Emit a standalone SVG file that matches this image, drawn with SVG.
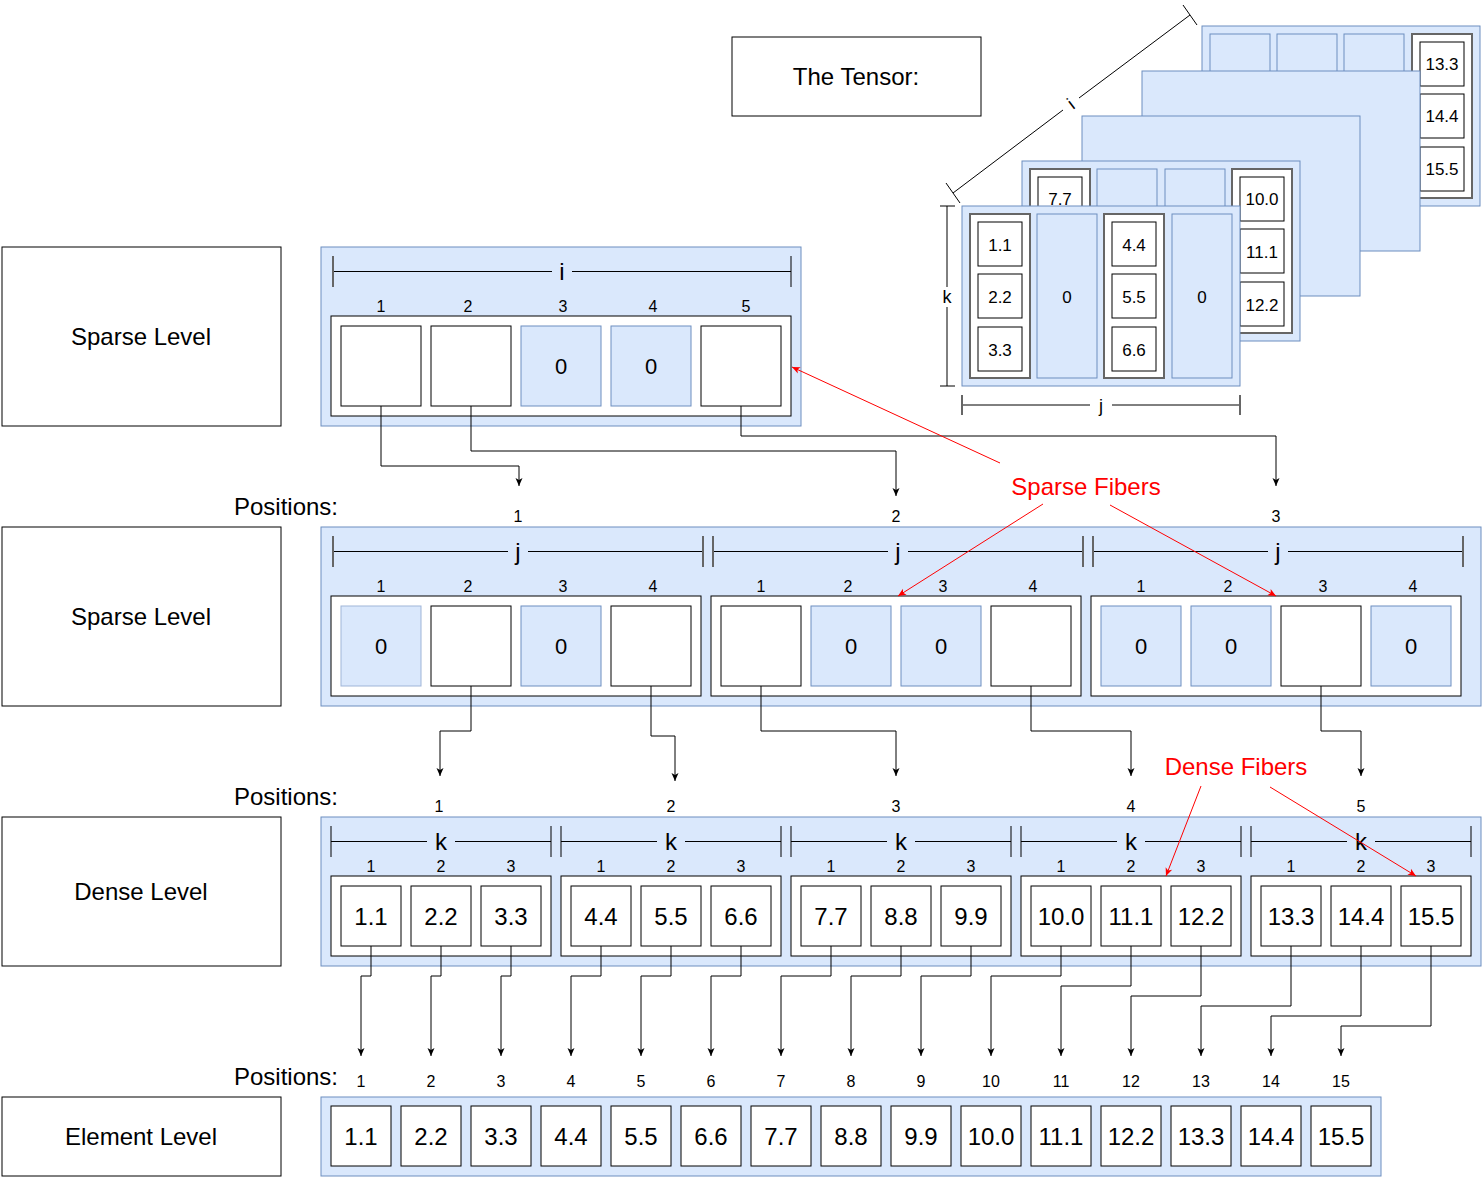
<svg xmlns="http://www.w3.org/2000/svg" width="1484" height="1180" viewBox="0 0 1484 1180">
<style>
text{font-family:"Liberation Sans",Arial,sans-serif;fill:#000;text-anchor:middle;dominant-baseline:central}
.lbl{font-size:24px}
.idx{font-size:16px}
.val{font-size:24px}
.zero{font-size:22px}
.rl{font-size:24px}
.ts{font-size:18px}
.tv{font-size:17px}
.box{fill:#fff;stroke:#000;stroke-width:1}
.blue{fill:#dae8fc;stroke:#6c8ebf;stroke-width:1}
.gray{fill:#fff;stroke:#666;stroke-width:2}
.rul{stroke:#000;stroke-width:1;fill:none}
.tk{stroke:#666;stroke-width:2;fill:none}
.tkb{stroke:#000;stroke-width:1;fill:none}
.con{stroke:#000;stroke-width:1;fill:none;marker-end:url(#ah)}
.red{stroke:#ff0000;stroke-width:1;fill:none;marker-end:url(#rh)}
.redt{fill:#ff0000;font-size:24px}
</style>
<defs>
<marker id="ah" markerWidth="10" markerHeight="10" refX="9" refY="5" orient="auto" markerUnits="userSpaceOnUse"><path d="M1,1.5 L9,5 L1,8.5 L3,5 Z" fill="#000"/></marker>
<marker id="rh" markerWidth="10" markerHeight="10" refX="9" refY="5" orient="auto" markerUnits="userSpaceOnUse"><path d="M1,1.5 L9,5 L1,8.5 L3,5 Z" fill="#ff0000"/></marker>
</defs>
<rect width="1484" height="1180" fill="#fff"/>

<!-- Left labels -->
<g id="label-sparse1"><rect class="box" x="2" y="247" width="279" height="179"/><text class="lbl" x="141" y="336">Sparse Level</text></g>
<g id="label-sparse2"><rect class="box" x="2" y="527" width="279" height="179"/><text class="lbl" x="141" y="616">Sparse Level</text></g>
<g id="label-dense"><rect class="box" x="2" y="817" width="279" height="149"/><text class="lbl" x="141" y="891">Dense Level</text></g>
<g id="label-element"><rect class="box" x="2" y="1097" width="279" height="79"/><text class="lbl" x="141" y="1136">Element Level</text></g>
<g id="label-tensor"><rect class="box" x="732" y="37" width="249" height="79"/><text class="lbl" x="856" y="76">The Tensor:</text></g>

<g id="positions-labels">
<text class="lbl" x="338" y="506" style="text-anchor:end">Positions:</text>
<text class="lbl" x="338" y="796" style="text-anchor:end">Positions:</text>
<text class="lbl" x="338" y="1076" style="text-anchor:end">Positions:</text>
</g>

<!-- Tensor -->
<g id="tensor">
<g id="slab5">
<rect class="blue" x="1202" y="26" width="278" height="180"/>
<rect class="blue" x="1210" y="34" width="60" height="164"/>
<rect class="blue" x="1277" y="34" width="60" height="164"/>
<rect class="blue" x="1344" y="34" width="60" height="164"/>
<rect class="gray" x="1412" y="34" width="60" height="164"/>
<rect class="box" x="1420" y="42" width="44" height="44"/><text class="tv" x="1442" y="64">13.3</text>
<rect class="box" x="1420" y="94" width="44" height="44"/><text class="tv" x="1442" y="116">14.4</text>
<rect class="box" x="1420" y="147" width="44" height="44"/><text class="tv" x="1442" y="169">15.5</text>
</g>
<g id="slab4"><rect class="blue" x="1142" y="71" width="278" height="180"/></g>
<g id="slab3"><rect class="blue" x="1082" y="116" width="278" height="180"/></g>
<g id="slab2">
<rect class="blue" x="1022" y="161" width="278" height="180"/>
<rect class="gray" x="1030" y="169" width="60" height="164"/>
<rect class="box" x="1038" y="177" width="44" height="44"/><text class="tv" x="1060" y="199">7.7</text>
<rect class="blue" x="1097" y="169" width="60" height="164"/>
<rect class="blue" x="1165" y="169" width="60" height="164"/>
<rect class="gray" x="1232" y="169" width="60" height="164"/>
<rect class="box" x="1240" y="177" width="44" height="44"/><text class="tv" x="1262" y="199">10.0</text>
<rect class="box" x="1240" y="229" width="44" height="44"/><text class="tv" x="1262" y="252">11.1</text>
<rect class="box" x="1240" y="282" width="44" height="44"/><text class="tv" x="1262" y="305">12.2</text>
</g>
<g id="slab1">
<rect class="blue" x="962" y="206" width="278" height="180"/>
<rect class="gray" x="970" y="214" width="60" height="164"/>
<rect class="box" x="978" y="222" width="44" height="44"/><text class="tv" x="1000" y="245">1.1</text>
<rect class="box" x="978" y="274" width="44" height="44"/><text class="tv" x="1000" y="297">2.2</text>
<rect class="box" x="978" y="327" width="44" height="44"/><text class="tv" x="1000" y="350">3.3</text>
<rect class="blue" x="1037" y="214" width="60" height="164"/><text class="tv" x="1067" y="297">0</text>
<rect class="gray" x="1104" y="214" width="60" height="164"/>
<rect class="box" x="1112" y="222" width="44" height="44"/><text class="tv" x="1134" y="245">4.4</text>
<rect class="box" x="1112" y="274" width="44" height="44"/><text class="tv" x="1134" y="297">5.5</text>
<rect class="box" x="1112" y="327" width="44" height="44"/><text class="tv" x="1134" y="350">6.6</text>
<rect class="blue" x="1172" y="214" width="60" height="164"/><text class="tv" x="1202" y="297">0</text>
</g>
<g id="tensor-k-ruler">
<path class="rul" d="M947,206 V287 M947,307 V386"/>
<path class="tkb" d="M940,206 H955 M940,386 H955"/>
<text class="ts" x="947" y="297">k</text>
</g>
<g id="tensor-j-ruler">
<path class="rul" d="M962,405 H1090 M1112,405 H1240"/>
<path class="tk" d="M962,395 V415 M1240,395 V415"/>
<text class="ts" x="1101" y="406">j</text>
</g>
<g id="tensor-i-ruler">
<path class="rul" d="M953,193 L1063,110 M1079,98 L1190,15"/>
<path class="tkb" d="M946,183 L960,203 M1183,5 L1197,25"/>
<text class="ts" x="1071" y="104" transform="rotate(-37 1071 104)">i</text>
</g>
</g>

<!-- Row 1: sparse level i -->
<g id="row1">
<rect class="blue" x="321" y="247" width="480" height="179"/>
<path class="rul" d="M333,271.5 H552 M572,271.5 H791"/>
<path class="tk" d="M333,256 V287"/>
<path class="tkb" d="M791,256 V287"/>
<text class="rl" x="562" y="271">i</text>
<text class="idx" x="381" y="306">1</text>
<text class="idx" x="468" y="306">2</text>
<text class="idx" x="563" y="306">3</text>
<text class="idx" x="653" y="306">4</text>
<text class="idx" x="746" y="306">5</text>
<rect class="box" x="331" y="316" width="460" height="100"/>
<rect class="box" x="341" y="326" width="80" height="80"/>
<rect class="box" x="431" y="326" width="80" height="80"/>
<rect class="blue" x="521" y="326" width="80" height="80"/><text class="zero" x="561" y="366">0</text>
<rect class="blue" x="611" y="326" width="80" height="80"/><text class="zero" x="651" y="366">0</text>
<rect class="box" x="701" y="326" width="80" height="80"/>
</g>

<!-- Row 2: sparse level j -->
<g id="row2">
<rect class="blue" x="321" y="527" width="1160" height="179"/>
<path class="rul" d="M333,551.5 H508 M528,551.5 H703 M713,551.5 H888 M908,551.5 H1083 M1093,551.5 H1268 M1288,551.5 H1463"/>
<path class="tk" d="M333,536 V567 M703,536 V567 M713,536 V567 M1083,536 V567 M1093,536 V567 M1463,536 V567"/>
<text class="rl" x="518" y="551">j</text>
<text class="rl" x="898" y="551">j</text>
<text class="rl" x="1278" y="551">j</text>
<text class="idx" x="381" y="586">1</text><text class="idx" x="468" y="586">2</text><text class="idx" x="563" y="586">3</text><text class="idx" x="653" y="586">4</text>
<text class="idx" x="761" y="586">1</text><text class="idx" x="848" y="586">2</text><text class="idx" x="943" y="586">3</text><text class="idx" x="1033" y="586">4</text>
<text class="idx" x="1141" y="586">1</text><text class="idx" x="1228" y="586">2</text><text class="idx" x="1323" y="586">3</text><text class="idx" x="1413" y="586">4</text>
<rect class="box" x="331" y="596" width="370" height="100"/>
<rect class="box" x="711" y="596" width="370" height="100"/>
<rect class="box" x="1091" y="596" width="370" height="100"/>
<rect class="blue" x="341" y="606" width="80" height="80" style="stroke:#9fb5d8"/><text class="zero" x="381" y="646">0</text>
<rect class="box" x="431" y="606" width="80" height="80"/>
<rect class="blue" x="521" y="606" width="80" height="80"/><text class="zero" x="561" y="646">0</text>
<rect class="box" x="611" y="606" width="80" height="80"/>
<rect class="box" x="721" y="606" width="80" height="80"/>
<rect class="blue" x="811" y="606" width="80" height="80"/><text class="zero" x="851" y="646">0</text>
<rect class="blue" x="901" y="606" width="80" height="80"/><text class="zero" x="941" y="646">0</text>
<rect class="box" x="991" y="606" width="80" height="80"/>
<rect class="blue" x="1101" y="606" width="80" height="80"/><text class="zero" x="1141" y="646">0</text>
<rect class="blue" x="1191" y="606" width="80" height="80"/><text class="zero" x="1231" y="646">0</text>
<rect class="box" x="1281" y="606" width="80" height="80"/>
<rect class="blue" x="1371" y="606" width="80" height="80"/><text class="zero" x="1411" y="646">0</text>
</g>

<!-- Row 3: dense level k -->
<g id="row3">
<rect class="blue" x="321" y="817" width="1160" height="149"/>
<path class="rul" d="M331,841.5 H427 M455,841.5 H551 M561,841.5 H657 M685,841.5 H781 M791,841.5 H887 M915,841.5 H1011 M1021,841.5 H1117 M1145,841.5 H1241 M1251,841.5 H1347 M1375,841.5 H1471"/>
<path class="tkb" d="M331,826 V857 M551,826 V857 M561,826 V857 M781,826 V857 M791,826 V857 M1011,826 V857 M1021,826 V857 M1241,826 V857 M1251,826 V857 M1471,826 V857"/>
<text class="rl" x="441" y="841">k</text>
<text class="rl" x="671" y="841">k</text>
<text class="rl" x="901" y="841">k</text>
<text class="rl" x="1131" y="841">k</text>
<text class="rl" x="1361" y="841">k</text>
<text class="idx" x="371" y="866">1</text><text class="idx" x="441" y="866">2</text><text class="idx" x="511" y="866">3</text>
<text class="idx" x="601" y="866">1</text><text class="idx" x="671" y="866">2</text><text class="idx" x="741" y="866">3</text>
<text class="idx" x="831" y="866">1</text><text class="idx" x="901" y="866">2</text><text class="idx" x="971" y="866">3</text>
<text class="idx" x="1061" y="866">1</text><text class="idx" x="1131" y="866">2</text><text class="idx" x="1201" y="866">3</text>
<text class="idx" x="1291" y="866">1</text><text class="idx" x="1361" y="866">2</text><text class="idx" x="1431" y="866">3</text>
<rect class="box" x="331" y="876" width="220" height="80"/>
<rect class="box" x="561" y="876" width="220" height="80"/>
<rect class="box" x="791" y="876" width="220" height="80"/>
<rect class="box" x="1021" y="876" width="220" height="80"/>
<rect class="box" x="1251" y="876" width="220" height="80"/>
<rect class="box" x="341" y="886" width="60" height="60"/><text class="val" x="371" y="916">1.1</text>
<rect class="box" x="411" y="886" width="60" height="60"/><text class="val" x="441" y="916">2.2</text>
<rect class="box" x="481" y="886" width="60" height="60"/><text class="val" x="511" y="916">3.3</text>
<rect class="box" x="571" y="886" width="60" height="60"/><text class="val" x="601" y="916">4.4</text>
<rect class="box" x="641" y="886" width="60" height="60"/><text class="val" x="671" y="916">5.5</text>
<rect class="box" x="711" y="886" width="60" height="60"/><text class="val" x="741" y="916">6.6</text>
<rect class="box" x="801" y="886" width="60" height="60"/><text class="val" x="831" y="916">7.7</text>
<rect class="box" x="871" y="886" width="60" height="60"/><text class="val" x="901" y="916">8.8</text>
<rect class="box" x="941" y="886" width="60" height="60"/><text class="val" x="971" y="916">9.9</text>
<rect class="box" x="1031" y="886" width="60" height="60"/><text class="val" x="1061" y="916">10.0</text>
<rect class="box" x="1101" y="886" width="60" height="60"/><text class="val" x="1131" y="916">11.1</text>
<rect class="box" x="1171" y="886" width="60" height="60"/><text class="val" x="1201" y="916">12.2</text>
<rect class="box" x="1261" y="886" width="60" height="60"/><text class="val" x="1291" y="916">13.3</text>
<rect class="box" x="1331" y="886" width="60" height="60"/><text class="val" x="1361" y="916">14.4</text>
<rect class="box" x="1401" y="886" width="60" height="60"/><text class="val" x="1431" y="916">15.5</text>
</g>

<!-- Row 4: element level -->
<g id="row4">
<rect class="blue" x="321" y="1097" width="1060" height="79"/>
<rect class="box" x="331" y="1106" width="60" height="60"/><text class="val" x="361" y="1136">1.1</text>
<rect class="box" x="401" y="1106" width="60" height="60"/><text class="val" x="431" y="1136">2.2</text>
<rect class="box" x="471" y="1106" width="60" height="60"/><text class="val" x="501" y="1136">3.3</text>
<rect class="box" x="541" y="1106" width="60" height="60"/><text class="val" x="571" y="1136">4.4</text>
<rect class="box" x="611" y="1106" width="60" height="60"/><text class="val" x="641" y="1136">5.5</text>
<rect class="box" x="681" y="1106" width="60" height="60"/><text class="val" x="711" y="1136">6.6</text>
<rect class="box" x="751" y="1106" width="60" height="60"/><text class="val" x="781" y="1136">7.7</text>
<rect class="box" x="821" y="1106" width="60" height="60"/><text class="val" x="851" y="1136">8.8</text>
<rect class="box" x="891" y="1106" width="60" height="60"/><text class="val" x="921" y="1136">9.9</text>
<rect class="box" x="961" y="1106" width="60" height="60"/><text class="val" x="991" y="1136">10.0</text>
<rect class="box" x="1031" y="1106" width="60" height="60"/><text class="val" x="1061" y="1136">11.1</text>
<rect class="box" x="1101" y="1106" width="60" height="60"/><text class="val" x="1131" y="1136">12.2</text>
<rect class="box" x="1171" y="1106" width="60" height="60"/><text class="val" x="1201" y="1136">13.3</text>
<rect class="box" x="1241" y="1106" width="60" height="60"/><text class="val" x="1271" y="1136">14.4</text>
<rect class="box" x="1311" y="1106" width="60" height="60"/><text class="val" x="1341" y="1136">15.5</text>
</g>

<!-- Position numbers -->
<g id="positions">
<text class="idx" x="518" y="516">1</text><text class="idx" x="896" y="516">2</text><text class="idx" x="1276" y="516">3</text>
<text class="idx" x="439" y="806">1</text><text class="idx" x="671" y="806">2</text><text class="idx" x="896" y="806">3</text><text class="idx" x="1131" y="806">4</text><text class="idx" x="1361" y="806">5</text>
<text class="idx" x="361" y="1081">1</text><text class="idx" x="431" y="1081">2</text><text class="idx" x="501" y="1081">3</text><text class="idx" x="571" y="1081">4</text><text class="idx" x="641" y="1081">5</text>
<text class="idx" x="711" y="1081">6</text><text class="idx" x="781" y="1081">7</text><text class="idx" x="851" y="1081">8</text><text class="idx" x="921" y="1081">9</text><text class="idx" x="991" y="1081">10</text>
<text class="idx" x="1061" y="1081">11</text><text class="idx" x="1131" y="1081">12</text><text class="idx" x="1201" y="1081">13</text><text class="idx" x="1271" y="1081">14</text><text class="idx" x="1341" y="1081">15</text>
</g>

<!-- Connectors -->
<g id="connectors">
<path class="con" d="M381,406 V466 H519 V486"/>
<path class="con" d="M471,406 V451 H896 V496"/>
<path class="con" d="M741,406 V436 H1276 V486"/>
<path class="con" d="M471,686 V731 H440 V776"/>
<path class="con" d="M651,686 V736 H675 V781"/>
<path class="con" d="M761,686 V731 H896 V776"/>
<path class="con" d="M1031,686 V731 H1131 V776"/>
<path class="con" d="M1321,686 V731 H1361 V776"/>
<path class="con" d="M371,946 V976 H361 V1056"/>
<path class="con" d="M441,946 V976 H431 V1056"/>
<path class="con" d="M511,946 V976 H501 V1056"/>
<path class="con" d="M601,946 V976 H571 V1056"/>
<path class="con" d="M671,946 V976 H641 V1056"/>
<path class="con" d="M741,946 V976 H711 V1056"/>
<path class="con" d="M831,946 V976 H781 V1056"/>
<path class="con" d="M901,946 V976 H851 V1056"/>
<path class="con" d="M971,946 V976 H921 V1056"/>
<path class="con" d="M1061,946 V976 H991 V1056"/>
<path class="con" d="M1131,946 V986 H1061 V1056"/>
<path class="con" d="M1201,946 V996 H1131 V1056"/>
<path class="con" d="M1291,946 V1006 H1201 V1056"/>
<path class="con" d="M1361,946 V1016 H1271 V1056"/>
<path class="con" d="M1431,946 V1026 H1341 V1056"/>
<path class="red" d="M1000,463 L792,367"/>
<path class="red" d="M1043,504 L898,596"/>
<path class="red" d="M1110,505 L1276,596"/>
<path class="red" d="M1201,786 L1166,876"/>
<path class="red" d="M1270,787 L1416,876"/>
</g>

<g id="annotation-sparse"><text class="redt" x="1086" y="486">Sparse Fibers</text></g>
<g id="annotation-dense"><text class="redt" x="1236" y="766">Dense Fibers</text></g>
</svg>
